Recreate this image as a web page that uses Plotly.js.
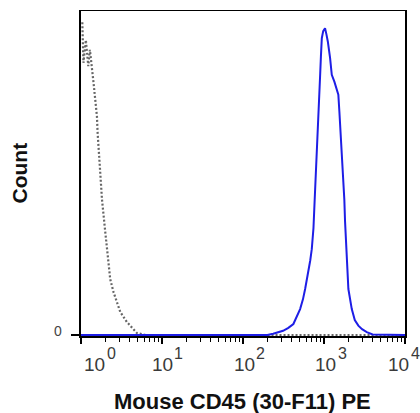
<!DOCTYPE html>
<html>
<head>
<meta charset="utf-8">
<script src="https://cdn.plot.ly/plotly-3.0.1.min.js"></script>
<style>
  html, body { margin: 0; padding: 0; background: #fff; }
  #chart { width: 420px; height: 413px; }
</style>
</head>
<body>
<div id="chart"></div>
<script>
// Control (unstained, grey dotted) histogram: fluorescence (PE) vs count
const controlX = [1.038, 1.072, 1.148, 1.230, 1.288, 1.368, 1.429, 1.500, 1.574, 1.603, 1.694, 1.816, 1.995, 2.188, 2.296, 2.523, 3.055, 3.690, 4.169, 4.909, 6.310, 10000];
const controlY = [96.5, 84, 91, 83, 88, 82.8, 77.8, 72.6, 67.4, 62.5, 52, 41.8, 31.7, 21.2, 17.2, 13.2, 7.1, 4, 2.5, 0.6, 0, 0];

// Stained (blue) histogram: Mouse CD45 (30-F11) PE
const stainedX = [1, 199.5, 235.5, 312.6, 363.1, 418.8, 507.0, 549.5, 584.8, 641.2, 676.1, 706.3, 741.3, 767.4, 812.8, 869.0, 895.4, 916.2, 939.7, 977.2, 1030.4, 1071.5, 1114.3, 1188.5, 1247.4, 1342.8, 1438.8, 1503.1, 1548.8, 1603.2, 1655.7, 1717.9, 1782.4, 1819.7, 1905.5, 1999.9, 2202.8, 2398.8, 2654.6, 2951.2, 3372.9, 3981, 10000];
const stainedY = [0, 0, 0.4, 1.3, 2.2, 3.4, 8, 11, 14.2, 19.4, 23, 26.5, 33, 41.8, 55, 68.9, 80, 86, 91.6, 93.8, 94.7, 92.8, 90.6, 85.5, 80.3, 78.2, 75.7, 74.2, 68.9, 63, 57.2, 50, 41.8, 35, 22, 14.2, 8, 4.6, 2.9, 1.8, 0.9, 0.2, 0];

// Axis ticks and titles
const xTickVals = [1, 10, 100, 1000, 10000];
const xTickBase = ['10', '10', '10', '10', '10'];
const xTickExp = ['0', '1', '2', '3', '4'];
const yTickVals = [0];
const yTickText = ['0'];
const xTitle = 'Mouse CD45 (30-F11) PE';
const yTitle = 'Count';

// label nudges so edge labels stay inside the frame (as in the reference)
const baseShift = [13, 0, 1, 1, -7];
const expShift = [24, 10, 11, 12, 4];

// minor tick positions (2..9 in each decade)
const minorVals = [];
for (let d = 0; d < 4; d++) {
  for (let m = 2; m <= 9; m++) minorVals.push(m * Math.pow(10, d));
}

const traces = [
  {
    x: controlX, y: controlY, type: 'scatter', mode: 'lines',
    line: { color: '#666666', width: 2.2, dash: '2px,2px' },
    hoverinfo: 'skip', cliponaxis: false
  },
  {
    x: stainedX, y: stainedY, type: 'scatter', mode: 'lines',
    line: { color: '#1e1ee6', width: 2 },
    hoverinfo: 'skip', cliponaxis: false
  }
];

const fontFam = '"Liberation Sans", Arial, sans-serif';
const annotations = [];
xTickVals.forEach((v, i) => {
  annotations.push({
    x: Math.log10(v), xref: 'x', y: 0, yref: 'paper',
    text: xTickBase[i], showarrow: false,
    xanchor: 'center', yanchor: 'top', xshift: baseShift[i], yshift: -16,
    font: { family: fontFam, size: 19, color: '#3a3a3a' }
  });
  annotations.push({
    x: Math.log10(v), xref: 'x', y: 0, yref: 'paper',
    text: xTickExp[i], showarrow: false,
    xanchor: 'left', yanchor: 'top', xshift: expShift[i], yshift: -7,
    font: { family: fontFam, size: 16, color: '#3a3a3a' }
  });
});
yTickVals.forEach((v, i) => {
  annotations.push({
    x: 0, xref: 'paper', y: v, yref: 'y',
    text: yTickText[i], showarrow: false,
    xanchor: 'right', yanchor: 'middle', xshift: -17, yshift: 4,
    font: { family: fontFam, size: 14, color: '#444' }
  });
});
annotations.push({
  x: 0.5, xref: 'paper', y: 0, yref: 'paper',
  text: xTitle, showarrow: false, xanchor: 'center', yanchor: 'middle',
  xshift: -1, yshift: -65,
  font: { family: fontFam, size: 22, color: '#111', weight: 'bold' }
});
annotations.push({
  x: 0, xref: 'paper', y: 0.5, yref: 'paper',
  text: yTitle, showarrow: false, xanchor: 'center', yanchor: 'middle',
  textangle: -90, xshift: -62,
  font: { family: fontFam, size: 21, color: '#111', weight: 'bold' }
});

const layout = {
  width: 420, height: 413,
  margin: { l: 81, r: 15, t: 11, b: 77 },
  paper_bgcolor: '#ffffff',
  plot_bgcolor: '#ffffff',
  showlegend: false,
  font: { family: fontFam, color: '#333' },
  xaxis: {
    type: 'log',
    range: [0, 4],
    tickmode: 'array',
    tickvals: xTickVals,
    showticklabels: false,
    ticks: 'outside', ticklen: 6, tickwidth: 1.2, tickcolor: '#000',
    minor: { tickmode: 'array', tickvals: minorVals, ticks: 'outside', ticklen: 4, tickwidth: 1, tickcolor: '#000', showgrid: false },
    showline: true, linecolor: '#000', linewidth: 1.5, mirror: true,
    showgrid: false, zeroline: false,
    layer: 'below traces',
    automargin: false
  },
  yaxis: {
    range: [-0.3, 100],
    tickmode: 'array',
    tickvals: yTickVals,
    showticklabels: false,
    ticks: 'outside', ticklen: 8, tickwidth: 1.2, tickcolor: '#000',
    showline: true, linecolor: '#000', linewidth: 1.8, mirror: true,
    showgrid: false, zeroline: false,
    layer: 'below traces',
    automargin: false
  },
  annotations: annotations
};

Plotly.newPlot('chart', traces, layout, { staticPlot: true, displayModeBar: false });
</script>
</body>
</html>
